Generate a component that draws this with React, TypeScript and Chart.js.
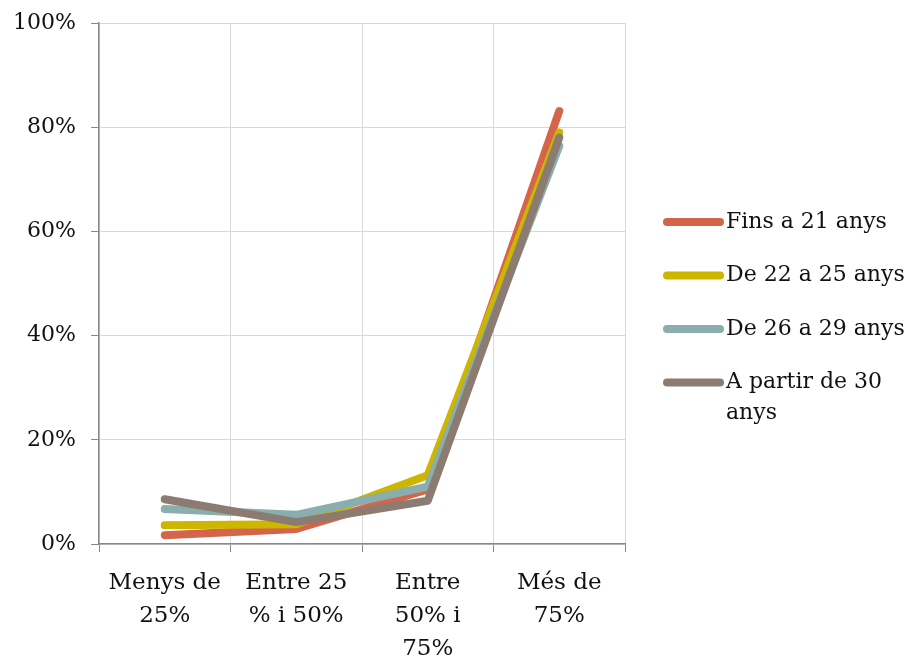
import React, { useEffect, useRef } from "react";
import { Chart, registerables } from "chart.js";

Chart.register(...registerables);

const categories: string[][] = [
  ["Menys de", "25%"],
  ["Entre 25", "% i 50%"],
  ["Entre", "50% i", "75%"],
  ["Més de", "75%"],
];
const seriesNames: string[][] = [
  ["Fins a 21 anys"],
  ["De 22 a 25 anys"],
  ["De 26 a 29 anys"],
  ["A partir de 30", "anys"],
];
const fins21: number[] = [1.7, 2.9, 10.5, 83.1];
const de22a25: number[] = [3.6, 3.8, 13.2, 79];
const de26a29: number[] = [6.7, 5.6, 11, 76.4];
const apartir30: number[] = [8.6, 4.2, 8.3, 78];
const colors: string[] = ["#D5654A", "#CDB500", "#8AADAD", "#8C7B70"];
const yTicks: number[] = [0, 20, 40, 60, 80, 100];

const FONT = "'DejaVu Serif', serif";
const TEXT = "#111111";

export default function App() {
  const ref = useRef<HTMLCanvasElement | null>(null);
  useEffect(() => {
    if (!ref.current) return;
    const series = [fins21, de22a25, de26a29, apartir30];
    const legendPlugin = {
      id: "customLegend",
      afterDraw(chart: any) {
        const ctx = chart.ctx;
        ctx.save();
        const startY = 222;
        const step = 53.5;
        seriesNames.forEach((lines, i) => {
          const y = startY + i * step;
          ctx.strokeStyle = colors[i];
          ctx.lineWidth = 8;
          ctx.lineCap = "round";
          ctx.beginPath();
          ctx.moveTo(667, y);
          ctx.lineTo(720, y);
          ctx.stroke();
          ctx.fillStyle = TEXT;
          ctx.font = `22px ${FONT}`;
          ctx.textBaseline = "middle";
          ctx.textAlign = "left";
          lines.forEach((t, j) => {
            ctx.fillText(t, 726, y + j * 31);
          });
        });
        ctx.restore();
      },
    };
    const chart = new Chart(ref.current, {
      type: "line",
      data: {
        labels: categories,
        datasets: series.map((d, i) => ({
          label: seriesNames[i].join(" "),
          data: d,
          borderColor: colors[i],
          backgroundColor: colors[i],
          borderWidth: 8,
          pointRadius: 0,
          borderCapStyle: "round" as const,
          borderJoinStyle: "round" as const,
          tension: 0,
          order: 4 - i,
        })),
      },
      options: {
        animation: false,
        responsive: false,
        layout: { padding: { top: 23, right: 288, left: 0, bottom: 0 } },
        plugins: { legend: { display: false }, tooltip: { enabled: false } },
        scales: {
          x: {
            offset: true,
            afterFit: (axis: any) => {
              axis.height = 117;
            },
            grid: {
              offset: true,
              color: (c: any) => (c.index === 4 ? "rgba(0,0,0,0)" : "#D9D9D9"),
              tickColor: "#888888",
              tickLength: 8,
              drawTicks: true,
            },
            border: { color: "#888888", width: 1.5 },
            ticks: {
              color: TEXT,
              font: { family: FONT, size: 23, lineHeight: 1.45 },
              maxRotation: 0,
              autoSkip: false,
              padding: 14,
            },
          },
          y: {
            min: 0,
            max: 100,
            afterFit: (axis: any) => {
              axis.width = 99;
              axis.paddingTop = 0;
              axis.paddingBottom = 0;
            },
            afterBuildTicks: (axis: any) => {
              axis.ticks = yTicks.map((v) => ({ value: v }));
            },
            grid: {
              color: "#D9D9D9",
              tickColor: "#888888",
              tickLength: 8,
            },
            border: { color: "#888888", width: 1.5 },
            ticks: {
              color: TEXT,
              font: { family: FONT, size: 22 },
              padding: 15,
              callback: (v: any) => `${v}%`,
            },
          },
        },
      },
      plugins: [legendPlugin],
    });
    return () => chart.destroy();
  }, []);
  return (
    <div style={{ position: "fixed", left: 0, top: 0, width: 913, height: 661, background: "#fff" }}>
      <canvas ref={ref} width={913} height={661} style={{ width: 913, height: 661 }} />
    </div>
  );
}
